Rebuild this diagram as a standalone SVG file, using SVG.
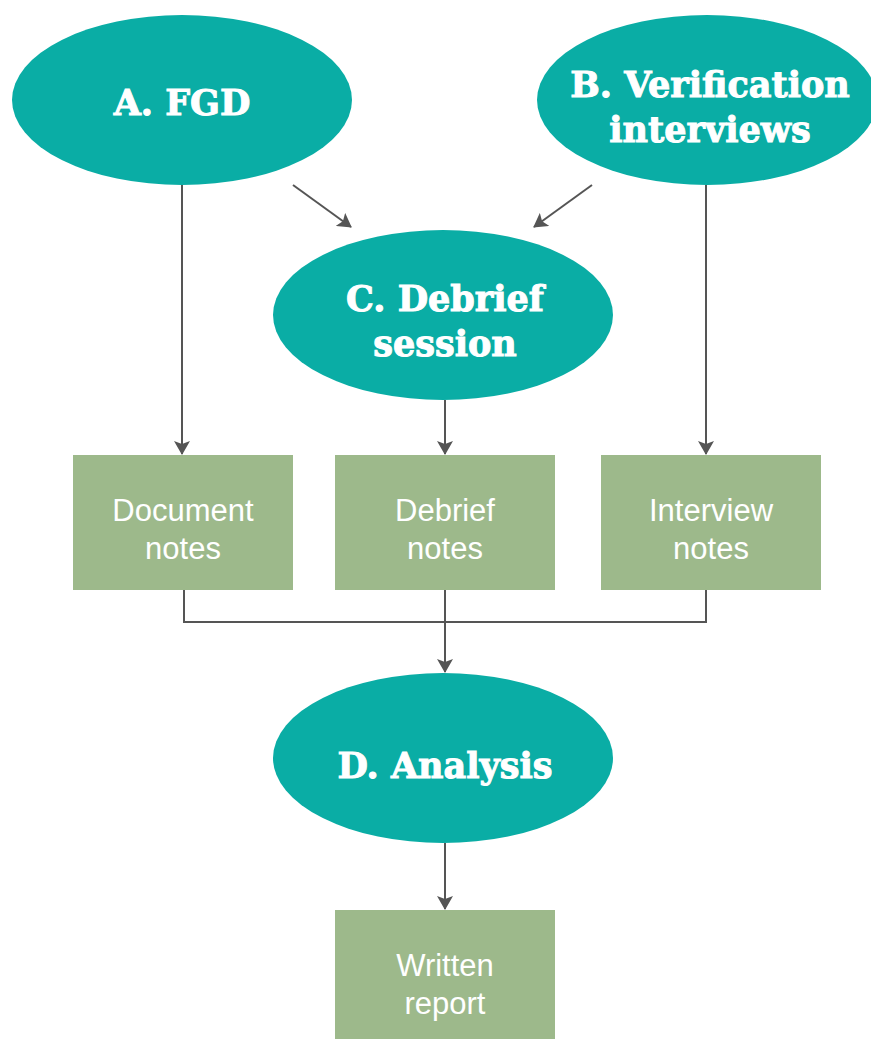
<svg xmlns="http://www.w3.org/2000/svg" width="871" height="1039" viewBox="0 0 871 1039">
<style>
.ell{fill:#0aada5}
.box{fill:#9db98b}
.et{font-family:"DejaVu Serif",serif;font-weight:bold;font-size:35px;fill:#fff;stroke:#fff;stroke-width:1;text-anchor:middle}
.bt{font-family:"Liberation Sans",Arial,sans-serif;font-size:31px;fill:#fff;text-anchor:middle}
.ln{stroke:#555;stroke-width:2;fill:none}
</style>
<defs>
<marker id="ah" viewBox="0 0 14 16" refX="13" refY="8" markerWidth="14" markerHeight="16" markerUnits="userSpaceOnUse" orient="auto">
<path d="M0,0 L14,8 L0,16 L3,8 z" fill="#555"/>
</marker>
</defs>
<rect width="871" height="1039" fill="#fff"/>
<g id="connectors">
<path class="ln" d="M182,185 V454" marker-end="url(#ah)"/>
<path class="ln" d="M706,185 V454" marker-end="url(#ah)"/>
<path class="ln" d="M445,400 V454" marker-end="url(#ah)"/>
<path class="ln" d="M293,185 L351,227" marker-end="url(#ah)"/>
<path class="ln" d="M592,185 L534,227" marker-end="url(#ah)"/>
<path class="ln" d="M184,590 V622 H706 V590"/>
<path class="ln" d="M445,590 V672" marker-end="url(#ah)"/>
<path class="ln" d="M445,843 V909" marker-end="url(#ah)"/>
</g>
<g id="nodeA"><ellipse class="ell" cx="182" cy="100" rx="170" ry="85"/><text class="et" x="182" y="115">A. FGD</text></g>
<g id="nodeB"><ellipse class="ell" cx="707" cy="100" rx="170" ry="85"/><text class="et" x="710" y="97">B. Verification</text><text class="et" x="710" y="142">interviews</text></g>
<g id="nodeC"><ellipse class="ell" cx="443" cy="315" rx="170" ry="85"/><text class="et" x="445" y="311">C. Debrief</text><text class="et" x="445" y="356">session</text></g>
<g id="docnotes"><rect class="box" x="73" y="455" width="220" height="135"/><text class="bt" x="183" y="521">Document</text><text class="bt" x="183" y="559">notes</text></g>
<g id="debnotes"><rect class="box" x="335" y="455" width="220" height="135"/><text class="bt" x="445" y="521">Debrief</text><text class="bt" x="445" y="559">notes</text></g>
<g id="intnotes"><rect class="box" x="601" y="455" width="220" height="135"/><text class="bt" x="711" y="521">Interview</text><text class="bt" x="711" y="559">notes</text></g>
<g id="nodeD"><ellipse class="ell" cx="443" cy="758" rx="170" ry="85"/><text class="et" x="445" y="778">D. Analysis</text></g>
<g id="report"><rect class="box" x="335" y="910" width="220" height="129"/><text class="bt" x="445" y="976">Written</text><text class="bt" x="445" y="1014">report</text></g>
</svg>
